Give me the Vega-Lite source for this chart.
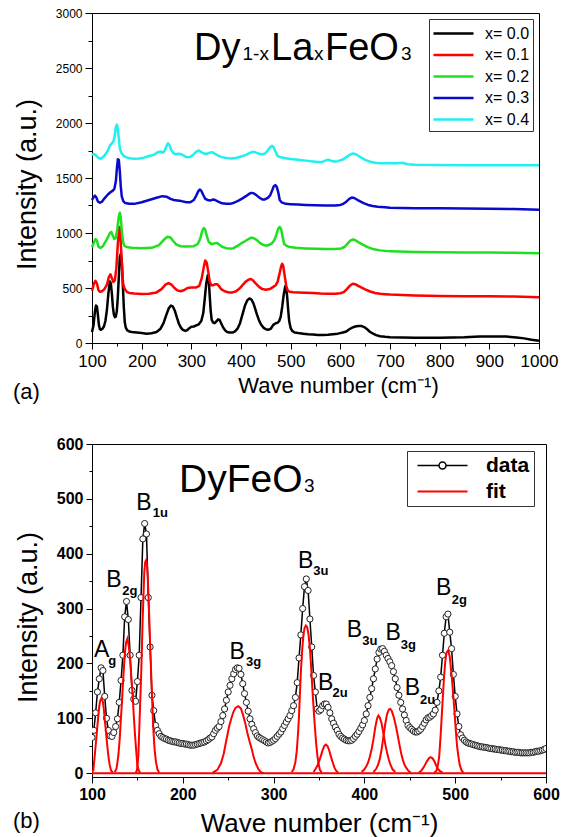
{
  "$schema": "https://vega.github.io/schema/vega-lite/v6.json",
  "background": "white",
  "padding": {"left": 12, "top": 6, "right": 0, "bottom": 0},
  "spacing": 31,
  "resolve": {"scale": {"color": "independent"}, "legend": {"color": "independent"}},
  "config": {
    "font": "Liberation Sans",
    "view": {"stroke": "black", "strokeWidth": 1},
    "axis": {
      "grid": false,
      "labelFont": "Liberation Sans",
      "titleFont": "Liberation Sans",
      "labelColor": "black",
      "titleColor": "black",
      "domainColor": "black",
      "tickColor": "black",
      "titleFontWeight": "normal",
      "labelFlush": false,
      "labelOverlap": false
    },
    "legend": {"labelFont": "Liberation Sans", "labelColor": "black"},
    "text": {"font": "Liberation Sans", "color": "black"}
  },
  "datasets": {
    "spectra": [
      {"s":"x= 0.0","w":100,"i":100},{"s":"x= 0.0","w":103,"i":160},{"s":"x= 0.0","w":106,"i":290},{"s":"x= 0.0","w":108,"i":340},{"s":"x= 0.0","w":110,"i":330},{"s":"x= 0.0","w":112,"i":250},{"s":"x= 0.0","w":114,"i":160},{"s":"x= 0.0","w":116,"i":125},{"s":"x= 0.0","w":118,"i":120},{"s":"x= 0.0","w":121,"i":130},{"s":"x= 0.0","w":124,"i":150},{"s":"x= 0.0","w":127,"i":200},{"s":"x= 0.0","w":130,"i":300},{"s":"x= 0.0","w":133,"i":450},{"s":"x= 0.0","w":136,"i":560},{"s":"x= 0.0","w":138,"i":540},{"s":"x= 0.0","w":140,"i":450},{"s":"x= 0.0","w":142,"i":330},{"s":"x= 0.0","w":144,"i":260},{"s":"x= 0.0","w":146,"i":235},{"s":"x= 0.0","w":148,"i":240},{"s":"x= 0.0","w":150,"i":290},{"s":"x= 0.0","w":152,"i":420},{"s":"x= 0.0","w":154,"i":600},{"s":"x= 0.0","w":156,"i":780},{"s":"x= 0.0","w":158,"i":810},{"s":"x= 0.0","w":160,"i":740},{"s":"x= 0.0","w":162,"i":540},{"s":"x= 0.0","w":164,"i":330},{"s":"x= 0.0","w":166,"i":190},{"s":"x= 0.0","w":168,"i":140},{"s":"x= 0.0","w":171,"i":115},{"s":"x= 0.0","w":175,"i":105},{"s":"x= 0.0","w":180,"i":100},{"s":"x= 0.0","w":190,"i":95},{"s":"x= 0.0","w":200,"i":90},{"s":"x= 0.0","w":210,"i":85},{"s":"x= 0.0","w":220,"i":88},{"s":"x= 0.0","w":230,"i":100},{"s":"x= 0.0","w":238,"i":130},{"s":"x= 0.0","w":244,"i":180},{"s":"x= 0.0","w":250,"i":260},{"s":"x= 0.0","w":255,"i":320},{"s":"x= 0.0","w":259,"i":340},{"s":"x= 0.0","w":263,"i":330},{"s":"x= 0.0","w":267,"i":290},{"s":"x= 0.0","w":271,"i":230},{"s":"x= 0.0","w":275,"i":175},{"s":"x= 0.0","w":279,"i":140},{"s":"x= 0.0","w":283,"i":120},{"s":"x= 0.0","w":288,"i":110},{"s":"x= 0.0","w":292,"i":118},{"s":"x= 0.0","w":296,"i":135},{"s":"x= 0.0","w":300,"i":148},{"s":"x= 0.0","w":305,"i":150},{"s":"x= 0.0","w":310,"i":160},{"s":"x= 0.0","w":315,"i":170},{"s":"x= 0.0","w":320,"i":200},{"s":"x= 0.0","w":324,"i":270},{"s":"x= 0.0","w":327,"i":400},{"s":"x= 0.0","w":330,"i":540},{"s":"x= 0.0","w":333,"i":615},{"s":"x= 0.0","w":335,"i":580},{"s":"x= 0.0","w":337,"i":430},{"s":"x= 0.0","w":339,"i":290},{"s":"x= 0.0","w":341,"i":210},{"s":"x= 0.0","w":344,"i":185},{"s":"x= 0.0","w":347,"i":180},{"s":"x= 0.0","w":350,"i":195},{"s":"x= 0.0","w":354,"i":215},{"s":"x= 0.0","w":357,"i":210},{"s":"x= 0.0","w":360,"i":180},{"s":"x= 0.0","w":364,"i":140},{"s":"x= 0.0","w":368,"i":115},{"s":"x= 0.0","w":372,"i":100},{"s":"x= 0.0","w":377,"i":95},{"s":"x= 0.0","w":383,"i":95},{"s":"x= 0.0","w":388,"i":105},{"s":"x= 0.0","w":393,"i":130},{"s":"x= 0.0","w":398,"i":180},{"s":"x= 0.0","w":403,"i":260},{"s":"x= 0.0","w":408,"i":340},{"s":"x= 0.0","w":413,"i":390},{"s":"x= 0.0","w":417,"i":405},{"s":"x= 0.0","w":421,"i":395},{"s":"x= 0.0","w":425,"i":360},{"s":"x= 0.0","w":428,"i":320},{"s":"x= 0.0","w":432,"i":260},{"s":"x= 0.0","w":436,"i":210},{"s":"x= 0.0","w":440,"i":170},{"s":"x= 0.0","w":445,"i":140},{"s":"x= 0.0","w":450,"i":125},{"s":"x= 0.0","w":455,"i":120},{"s":"x= 0.0","w":460,"i":130},{"s":"x= 0.0","w":465,"i":165},{"s":"x= 0.0","w":470,"i":180},{"s":"x= 0.0","w":474,"i":185},{"s":"x= 0.0","w":477,"i":200},{"s":"x= 0.0","w":480,"i":240},{"s":"x= 0.0","w":483,"i":330},{"s":"x= 0.0","w":486,"i":440},{"s":"x= 0.0","w":489,"i":515},{"s":"x= 0.0","w":491,"i":500},{"s":"x= 0.0","w":493,"i":420},{"s":"x= 0.0","w":495,"i":300},{"s":"x= 0.0","w":497,"i":200},{"s":"x= 0.0","w":500,"i":135},{"s":"x= 0.0","w":503,"i":110},{"s":"x= 0.0","w":508,"i":95},{"s":"x= 0.0","w":515,"i":90},{"s":"x= 0.0","w":525,"i":85},{"s":"x= 0.0","w":535,"i":80},{"s":"x= 0.0","w":545,"i":77},{"s":"x= 0.0","w":555,"i":73},{"s":"x= 0.0","w":565,"i":72},{"s":"x= 0.0","w":575,"i":75},{"s":"x= 0.0","w":585,"i":80},{"s":"x= 0.0","w":595,"i":85},{"s":"x= 0.0","w":605,"i":95},{"s":"x= 0.0","w":612,"i":105},{"s":"x= 0.0","w":618,"i":125},{"s":"x= 0.0","w":624,"i":140},{"s":"x= 0.0","w":630,"i":150},{"s":"x= 0.0","w":636,"i":155},{"s":"x= 0.0","w":642,"i":155},{"s":"x= 0.0","w":648,"i":145},{"s":"x= 0.0","w":654,"i":125},{"s":"x= 0.0","w":660,"i":100},{"s":"x= 0.0","w":666,"i":85},{"s":"x= 0.0","w":672,"i":72},{"s":"x= 0.0","w":680,"i":62},{"s":"x= 0.0","w":690,"i":56},{"s":"x= 0.0","w":700,"i":52},{"s":"x= 0.0","w":750,"i":48},{"s":"x= 0.0","w":800,"i":48},{"s":"x= 0.0","w":850,"i":52},{"s":"x= 0.0","w":880,"i":58},{"s":"x= 0.0","w":910,"i":60},{"s":"x= 0.0","w":935,"i":58},{"s":"x= 0.0","w":955,"i":50},{"s":"x= 0.0","w":970,"i":42},{"s":"x= 0.0","w":985,"i":30},{"s":"x= 0.0","w":1000,"i":20},

      {"s":"x= 0.1","w":100,"i":475},{"s":"x= 0.1","w":104,"i":540},{"s":"x= 0.1","w":107,"i":565},{"s":"x= 0.1","w":110,"i":540},{"s":"x= 0.1","w":113,"i":480},{"s":"x= 0.1","w":116,"i":465},{"s":"x= 0.1","w":120,"i":470},{"s":"x= 0.1","w":125,"i":490},{"s":"x= 0.1","w":130,"i":530},{"s":"x= 0.1","w":134,"i":600},{"s":"x= 0.1","w":137,"i":625},{"s":"x= 0.1","w":140,"i":590},{"s":"x= 0.1","w":143,"i":555},{"s":"x= 0.1","w":146,"i":570},{"s":"x= 0.1","w":149,"i":680},{"s":"x= 0.1","w":152,"i":900},{"s":"x= 0.1","w":155,"i":1055},{"s":"x= 0.1","w":157,"i":1000},{"s":"x= 0.1","w":159,"i":820},{"s":"x= 0.1","w":161,"i":640},{"s":"x= 0.1","w":163,"i":530},{"s":"x= 0.1","w":166,"i":490},{"s":"x= 0.1","w":170,"i":465},{"s":"x= 0.1","w":175,"i":455},{"s":"x= 0.1","w":185,"i":450},{"s":"x= 0.1","w":200,"i":445},{"s":"x= 0.1","w":215,"i":448},{"s":"x= 0.1","w":230,"i":460},{"s":"x= 0.1","w":240,"i":490},{"s":"x= 0.1","w":248,"i":530},{"s":"x= 0.1","w":254,"i":545},{"s":"x= 0.1","w":260,"i":530},{"s":"x= 0.1","w":266,"i":500},{"s":"x= 0.1","w":272,"i":478},{"s":"x= 0.1","w":278,"i":470},{"s":"x= 0.1","w":285,"i":480},{"s":"x= 0.1","w":292,"i":500},{"s":"x= 0.1","w":300,"i":505},{"s":"x= 0.1","w":310,"i":505},{"s":"x= 0.1","w":316,"i":520},{"s":"x= 0.1","w":321,"i":590},{"s":"x= 0.1","w":325,"i":690},{"s":"x= 0.1","w":328,"i":750},{"s":"x= 0.1","w":331,"i":730},{"s":"x= 0.1","w":334,"i":650},{"s":"x= 0.1","w":337,"i":560},{"s":"x= 0.1","w":340,"i":525},{"s":"x= 0.1","w":344,"i":525},{"s":"x= 0.1","w":348,"i":535},{"s":"x= 0.1","w":352,"i":535},{"s":"x= 0.1","w":356,"i":515},{"s":"x= 0.1","w":360,"i":490},{"s":"x= 0.1","w":367,"i":470},{"s":"x= 0.1","w":375,"i":460},{"s":"x= 0.1","w":383,"i":460},{"s":"x= 0.1","w":390,"i":470},{"s":"x= 0.1","w":397,"i":495},{"s":"x= 0.1","w":404,"i":530},{"s":"x= 0.1","w":410,"i":560},{"s":"x= 0.1","w":416,"i":578},{"s":"x= 0.1","w":420,"i":582},{"s":"x= 0.1","w":424,"i":570},{"s":"x= 0.1","w":430,"i":540},{"s":"x= 0.1","w":437,"i":508},{"s":"x= 0.1","w":443,"i":490},{"s":"x= 0.1","w":450,"i":485},{"s":"x= 0.1","w":458,"i":490},{"s":"x= 0.1","w":465,"i":510},{"s":"x= 0.1","w":470,"i":525},{"s":"x= 0.1","w":474,"i":560},{"s":"x= 0.1","w":478,"i":640},{"s":"x= 0.1","w":481,"i":700},{"s":"x= 0.1","w":483,"i":720},{"s":"x= 0.1","w":485,"i":700},{"s":"x= 0.1","w":488,"i":610},{"s":"x= 0.1","w":491,"i":520},{"s":"x= 0.1","w":494,"i":478},{"s":"x= 0.1","w":498,"i":465},{"s":"x= 0.1","w":505,"i":462},{"s":"x= 0.1","w":515,"i":460},{"s":"x= 0.1","w":530,"i":457},{"s":"x= 0.1","w":545,"i":455},{"s":"x= 0.1","w":560,"i":450},{"s":"x= 0.1","w":575,"i":448},{"s":"x= 0.1","w":590,"i":448},{"s":"x= 0.1","w":600,"i":452},{"s":"x= 0.1","w":607,"i":462},{"s":"x= 0.1","w":613,"i":490},{"s":"x= 0.1","w":619,"i":520},{"s":"x= 0.1","w":625,"i":538},{"s":"x= 0.1","w":630,"i":535},{"s":"x= 0.1","w":636,"i":520},{"s":"x= 0.1","w":642,"i":505},{"s":"x= 0.1","w":650,"i":487},{"s":"x= 0.1","w":660,"i":468},{"s":"x= 0.1","w":670,"i":455},{"s":"x= 0.1","w":680,"i":448},{"s":"x= 0.1","w":690,"i":444},{"s":"x= 0.1","w":700,"i":440},{"s":"x= 0.1","w":750,"i":432},{"s":"x= 0.1","w":800,"i":428},{"s":"x= 0.1","w":850,"i":425},{"s":"x= 0.1","w":900,"i":425},{"s":"x= 0.1","w":950,"i":422},{"s":"x= 0.1","w":1000,"i":415},

      {"s":"x= 0.2","w":100,"i":870},{"s":"x= 0.2","w":103,"i":905},{"s":"x= 0.2","w":107,"i":945},{"s":"x= 0.2","w":110,"i":930},{"s":"x= 0.2","w":113,"i":875},{"s":"x= 0.2","w":117,"i":865},{"s":"x= 0.2","w":122,"i":880},{"s":"x= 0.2","w":127,"i":920},{"s":"x= 0.2","w":132,"i":960},{"s":"x= 0.2","w":136,"i":1000},{"s":"x= 0.2","w":139,"i":1010},{"s":"x= 0.2","w":142,"i":975},{"s":"x= 0.2","w":145,"i":945},{"s":"x= 0.2","w":148,"i":955},{"s":"x= 0.2","w":151,"i":1040},{"s":"x= 0.2","w":154,"i":1150},{"s":"x= 0.2","w":156,"i":1185},{"s":"x= 0.2","w":158,"i":1140},{"s":"x= 0.2","w":160,"i":1020},{"s":"x= 0.2","w":163,"i":910},{"s":"x= 0.2","w":166,"i":880},{"s":"x= 0.2","w":172,"i":870},{"s":"x= 0.2","w":180,"i":865},{"s":"x= 0.2","w":200,"i":862},{"s":"x= 0.2","w":220,"i":865},{"s":"x= 0.2","w":235,"i":890},{"s":"x= 0.2","w":245,"i":940},{"s":"x= 0.2","w":252,"i":965},{"s":"x= 0.2","w":258,"i":960},{"s":"x= 0.2","w":264,"i":925},{"s":"x= 0.2","w":270,"i":895},{"s":"x= 0.2","w":278,"i":880},{"s":"x= 0.2","w":290,"i":878},{"s":"x= 0.2","w":305,"i":880},{"s":"x= 0.2","w":313,"i":900},{"s":"x= 0.2","w":318,"i":950},{"s":"x= 0.2","w":322,"i":1020},{"s":"x= 0.2","w":325,"i":1045},{"s":"x= 0.2","w":328,"i":1030},{"s":"x= 0.2","w":331,"i":975},{"s":"x= 0.2","w":335,"i":920},{"s":"x= 0.2","w":340,"i":900},{"s":"x= 0.2","w":346,"i":905},{"s":"x= 0.2","w":351,"i":910},{"s":"x= 0.2","w":356,"i":895},{"s":"x= 0.2","w":362,"i":875},{"s":"x= 0.2","w":370,"i":862},{"s":"x= 0.2","w":378,"i":858},{"s":"x= 0.2","w":385,"i":862},{"s":"x= 0.2","w":392,"i":880},{"s":"x= 0.2","w":400,"i":905},{"s":"x= 0.2","w":408,"i":925},{"s":"x= 0.2","w":415,"i":945},{"s":"x= 0.2","w":421,"i":958},{"s":"x= 0.2","w":426,"i":952},{"s":"x= 0.2","w":432,"i":935},{"s":"x= 0.2","w":438,"i":910},{"s":"x= 0.2","w":444,"i":893},{"s":"x= 0.2","w":450,"i":885},{"s":"x= 0.2","w":456,"i":890},{"s":"x= 0.2","w":462,"i":905},{"s":"x= 0.2","w":467,"i":935},{"s":"x= 0.2","w":471,"i":980},{"s":"x= 0.2","w":475,"i":1040},{"s":"x= 0.2","w":478,"i":1055},{"s":"x= 0.2","w":481,"i":1030},{"s":"x= 0.2","w":484,"i":960},{"s":"x= 0.2","w":487,"i":900},{"s":"x= 0.2","w":491,"i":885},{"s":"x= 0.2","w":498,"i":872},{"s":"x= 0.2","w":510,"i":865},{"s":"x= 0.2","w":530,"i":860},{"s":"x= 0.2","w":550,"i":857},{"s":"x= 0.2","w":570,"i":855},{"s":"x= 0.2","w":590,"i":855},{"s":"x= 0.2","w":602,"i":860},{"s":"x= 0.2","w":609,"i":875},{"s":"x= 0.2","w":615,"i":905},{"s":"x= 0.2","w":620,"i":930},{"s":"x= 0.2","w":626,"i":942},{"s":"x= 0.2","w":632,"i":930},{"s":"x= 0.2","w":638,"i":912},{"s":"x= 0.2","w":645,"i":895},{"s":"x= 0.2","w":655,"i":872},{"s":"x= 0.2","w":665,"i":855},{"s":"x= 0.2","w":680,"i":842},{"s":"x= 0.2","w":700,"i":833},{"s":"x= 0.2","w":750,"i":828},{"s":"x= 0.2","w":800,"i":825},{"s":"x= 0.2","w":850,"i":822},{"s":"x= 0.2","w":900,"i":822},{"s":"x= 0.2","w":950,"i":820},{"s":"x= 0.2","w":1000,"i":815},

      {"s":"x= 0.3","w":100,"i":1300},{"s":"x= 0.3","w":103,"i":1325},{"s":"x= 0.3","w":106,"i":1340},{"s":"x= 0.3","w":109,"i":1320},{"s":"x= 0.3","w":112,"i":1285},{"s":"x= 0.3","w":116,"i":1275},{"s":"x= 0.3","w":120,"i":1285},{"s":"x= 0.3","w":126,"i":1320},{"s":"x= 0.3","w":132,"i":1350},{"s":"x= 0.3","w":137,"i":1370},{"s":"x= 0.3","w":142,"i":1385},{"s":"x= 0.3","w":145,"i":1400},{"s":"x= 0.3","w":148,"i":1470},{"s":"x= 0.3","w":150,"i":1580},{"s":"x= 0.3","w":152,"i":1670},{"s":"x= 0.3","w":154,"i":1665},{"s":"x= 0.3","w":156,"i":1560},{"s":"x= 0.3","w":158,"i":1420},{"s":"x= 0.3","w":160,"i":1330},{"s":"x= 0.3","w":163,"i":1290},{"s":"x= 0.3","w":167,"i":1272},{"s":"x= 0.3","w":175,"i":1265},{"s":"x= 0.3","w":185,"i":1265},{"s":"x= 0.3","w":200,"i":1280},{"s":"x= 0.3","w":215,"i":1300},{"s":"x= 0.3","w":230,"i":1320},{"s":"x= 0.3","w":242,"i":1335},{"s":"x= 0.3","w":250,"i":1330},{"s":"x= 0.3","w":258,"i":1310},{"s":"x= 0.3","w":265,"i":1300},{"s":"x= 0.3","w":272,"i":1295},{"s":"x= 0.3","w":280,"i":1290},{"s":"x= 0.3","w":290,"i":1280},{"s":"x= 0.3","w":298,"i":1280},{"s":"x= 0.3","w":305,"i":1300},{"s":"x= 0.3","w":310,"i":1340},{"s":"x= 0.3","w":314,"i":1380},{"s":"x= 0.3","w":317,"i":1395},{"s":"x= 0.3","w":320,"i":1385},{"s":"x= 0.3","w":324,"i":1345},{"s":"x= 0.3","w":328,"i":1310},{"s":"x= 0.3","w":333,"i":1300},{"s":"x= 0.3","w":338,"i":1295},{"s":"x= 0.3","w":344,"i":1305},{"s":"x= 0.3","w":348,"i":1300},{"s":"x= 0.3","w":354,"i":1285},{"s":"x= 0.3","w":362,"i":1270},{"s":"x= 0.3","w":370,"i":1265},{"s":"x= 0.3","w":378,"i":1265},{"s":"x= 0.3","w":386,"i":1275},{"s":"x= 0.3","w":395,"i":1295},{"s":"x= 0.3","w":403,"i":1315},{"s":"x= 0.3","w":410,"i":1335},{"s":"x= 0.3","w":416,"i":1355},{"s":"x= 0.3","w":421,"i":1365},{"s":"x= 0.3","w":426,"i":1360},{"s":"x= 0.3","w":432,"i":1340},{"s":"x= 0.3","w":438,"i":1318},{"s":"x= 0.3","w":443,"i":1305},{"s":"x= 0.3","w":448,"i":1305},{"s":"x= 0.3","w":454,"i":1320},{"s":"x= 0.3","w":459,"i":1345},{"s":"x= 0.3","w":463,"i":1390},{"s":"x= 0.3","w":466,"i":1425},{"s":"x= 0.3","w":469,"i":1435},{"s":"x= 0.3","w":472,"i":1420},{"s":"x= 0.3","w":475,"i":1370},{"s":"x= 0.3","w":478,"i":1300},{"s":"x= 0.3","w":482,"i":1278},{"s":"x= 0.3","w":490,"i":1265},{"s":"x= 0.3","w":500,"i":1262},{"s":"x= 0.3","w":515,"i":1258},{"s":"x= 0.3","w":530,"i":1255},{"s":"x= 0.3","w":550,"i":1252},{"s":"x= 0.3","w":570,"i":1250},{"s":"x= 0.3","w":590,"i":1250},{"s":"x= 0.3","w":600,"i":1255},{"s":"x= 0.3","w":606,"i":1265},{"s":"x= 0.3","w":612,"i":1285},{"s":"x= 0.3","w":618,"i":1310},{"s":"x= 0.3","w":623,"i":1322},{"s":"x= 0.3","w":628,"i":1318},{"s":"x= 0.3","w":634,"i":1302},{"s":"x= 0.3","w":640,"i":1288},{"s":"x= 0.3","w":648,"i":1270},{"s":"x= 0.3","w":656,"i":1255},{"s":"x= 0.3","w":665,"i":1245},{"s":"x= 0.3","w":675,"i":1238},{"s":"x= 0.3","w":690,"i":1233},{"s":"x= 0.3","w":700,"i":1230},{"s":"x= 0.3","w":750,"i":1226},{"s":"x= 0.3","w":800,"i":1224},{"s":"x= 0.3","w":850,"i":1222},{"s":"x= 0.3","w":900,"i":1220},{"s":"x= 0.3","w":950,"i":1218},{"s":"x= 0.3","w":1000,"i":1212},

      {"s":"x= 0.4","w":100,"i":1705},{"s":"x= 0.4","w":103,"i":1720},{"s":"x= 0.4","w":106,"i":1715},{"s":"x= 0.4","w":110,"i":1695},{"s":"x= 0.4","w":114,"i":1680},{"s":"x= 0.4","w":118,"i":1675},{"s":"x= 0.4","w":122,"i":1690},{"s":"x= 0.4","w":127,"i":1715},{"s":"x= 0.4","w":132,"i":1750},{"s":"x= 0.4","w":136,"i":1795},{"s":"x= 0.4","w":140,"i":1815},{"s":"x= 0.4","w":143,"i":1830},{"s":"x= 0.4","w":146,"i":1890},{"s":"x= 0.4","w":148,"i":1960},{"s":"x= 0.4","w":150,"i":1985},{"s":"x= 0.4","w":152,"i":1950},{"s":"x= 0.4","w":154,"i":1860},{"s":"x= 0.4","w":156,"i":1770},{"s":"x= 0.4","w":159,"i":1730},{"s":"x= 0.4","w":163,"i":1705},{"s":"x= 0.4","w":168,"i":1690},{"s":"x= 0.4","w":175,"i":1680},{"s":"x= 0.4","w":185,"i":1675},{"s":"x= 0.4","w":195,"i":1678},{"s":"x= 0.4","w":205,"i":1685},{"s":"x= 0.4","w":215,"i":1700},{"s":"x= 0.4","w":225,"i":1712},{"s":"x= 0.4","w":232,"i":1735},{"s":"x= 0.4","w":238,"i":1740},{"s":"x= 0.4","w":242,"i":1730},{"s":"x= 0.4","w":246,"i":1745},{"s":"x= 0.4","w":250,"i":1790},{"s":"x= 0.4","w":253,"i":1815},{"s":"x= 0.4","w":256,"i":1800},{"s":"x= 0.4","w":259,"i":1760},{"s":"x= 0.4","w":263,"i":1730},{"s":"x= 0.4","w":268,"i":1715},{"s":"x= 0.4","w":274,"i":1720},{"s":"x= 0.4","w":280,"i":1715},{"s":"x= 0.4","w":286,"i":1700},{"s":"x= 0.4","w":292,"i":1688},{"s":"x= 0.4","w":298,"i":1692},{"s":"x= 0.4","w":304,"i":1712},{"s":"x= 0.4","w":310,"i":1740},{"s":"x= 0.4","w":314,"i":1750},{"s":"x= 0.4","w":318,"i":1742},{"s":"x= 0.4","w":324,"i":1725},{"s":"x= 0.4","w":330,"i":1718},{"s":"x= 0.4","w":336,"i":1728},{"s":"x= 0.4","w":341,"i":1735},{"s":"x= 0.4","w":346,"i":1725},{"s":"x= 0.4","w":352,"i":1708},{"s":"x= 0.4","w":360,"i":1692},{"s":"x= 0.4","w":370,"i":1682},{"s":"x= 0.4","w":380,"i":1678},{"s":"x= 0.4","w":390,"i":1682},{"s":"x= 0.4","w":400,"i":1695},{"s":"x= 0.4","w":410,"i":1710},{"s":"x= 0.4","w":418,"i":1728},{"s":"x= 0.4","w":423,"i":1738},{"s":"x= 0.4","w":428,"i":1735},{"s":"x= 0.4","w":435,"i":1722},{"s":"x= 0.4","w":442,"i":1715},{"s":"x= 0.4","w":448,"i":1722},{"s":"x= 0.4","w":453,"i":1745},{"s":"x= 0.4","w":458,"i":1775},{"s":"x= 0.4","w":462,"i":1792},{"s":"x= 0.4","w":465,"i":1785},{"s":"x= 0.4","w":469,"i":1745},{"s":"x= 0.4","w":473,"i":1705},{"s":"x= 0.4","w":478,"i":1690},{"s":"x= 0.4","w":490,"i":1680},{"s":"x= 0.4","w":500,"i":1672},{"s":"x= 0.4","w":515,"i":1665},{"s":"x= 0.4","w":530,"i":1658},{"s":"x= 0.4","w":545,"i":1650},{"s":"x= 0.4","w":555,"i":1645},{"s":"x= 0.4","w":565,"i":1648},{"s":"x= 0.4","w":572,"i":1662},{"s":"x= 0.4","w":577,"i":1665},{"s":"x= 0.4","w":582,"i":1655},{"s":"x= 0.4","w":588,"i":1650},{"s":"x= 0.4","w":595,"i":1653},{"s":"x= 0.4","w":605,"i":1668},{"s":"x= 0.4","w":612,"i":1690},{"s":"x= 0.4","w":618,"i":1708},{"s":"x= 0.4","w":624,"i":1722},{"s":"x= 0.4","w":630,"i":1718},{"s":"x= 0.4","w":636,"i":1702},{"s":"x= 0.4","w":642,"i":1685},{"s":"x= 0.4","w":650,"i":1665},{"s":"x= 0.4","w":660,"i":1648},{"s":"x= 0.4","w":670,"i":1638},{"s":"x= 0.4","w":680,"i":1635},{"s":"x= 0.4","w":700,"i":1635},{"s":"x= 0.4","w":715,"i":1634},{"s":"x= 0.4","w":725,"i":1638},{"s":"x= 0.4","w":735,"i":1625},{"s":"x= 0.4","w":750,"i":1620},{"s":"x= 0.4","w":800,"i":1618},{"s":"x= 0.4","w":850,"i":1617},{"s":"x= 0.4","w":900,"i":1616},{"s":"x= 0.4","w":950,"i":1615},{"s":"x= 0.4","w":1000,"i":1615}
    ],
    "topText": [
      {"w":305.4,"i":2570,"t":"Dy","r":"b"},
      {"w":403,"i":2570,"t":"1-x","r":"n"},
      {"w":460.4,"i":2570,"t":"La","r":"b"},
      {"w":547,"i":2570,"t":"x","r":"n"},
      {"w":569,"i":2570,"t":"FeO","r":"b"},
      {"w":722,"i":2570,"t":"3","r":"n"},
      {"w":-59,"i":-509,"t":"(a)","r":"p"}
    ],
    "raman": [
      {"w":100,"i":65},{"w":102,"i":78},{"w":104,"i":110},{"w":106,"i":148},{"w":108,"i":172},{"w":110,"i":192},{"w":112,"i":187},{"w":114,"i":140},{"w":116,"i":100},{"w":118,"i":78},{"w":120,"i":68},{"w":122,"i":67},{"w":124,"i":74},{"w":126,"i":85},{"w":128,"i":99},{"w":130,"i":129},{"w":132,"i":169},{"w":134,"i":215},{"w":136,"i":285},{"w":138,"i":313},{"w":140,"i":280},{"w":142,"i":215},{"w":144,"i":151},{"w":146,"i":135},{"w":148,"i":131},{"w":150,"i":167},{"w":152,"i":215},{"w":154,"i":320},{"w":156,"i":427},{"w":158,"i":455},{"w":160,"i":436},{"w":162,"i":320},{"w":164,"i":230},{"w":166,"i":142},{"w":168,"i":114},{"w":170,"i":87},{"w":172,"i":78},{"w":174,"i":72},{"w":176,"i":67},{"w":178,"i":65},{"w":180,"i":63},{"w":182,"i":62},{"w":184,"i":60},{"w":186,"i":59},{"w":188,"i":58},{"w":190,"i":57},{"w":192,"i":57},{"w":194,"i":56},{"w":196,"i":55},{"w":198,"i":54},{"w":200,"i":54},{"w":202,"i":53},{"w":204,"i":53},{"w":206,"i":52},{"w":208,"i":51},{"w":210,"i":51},{"w":212,"i":51},{"w":214,"i":52},{"w":216,"i":53},{"w":218,"i":54},{"w":220,"i":55},{"w":222,"i":56},{"w":224,"i":57},{"w":226,"i":59},{"w":228,"i":61},{"w":230,"i":64},{"w":232,"i":66},{"w":234,"i":72},{"w":236,"i":78},{"w":238,"i":82},{"w":240,"i":85},{"w":242,"i":94},{"w":244,"i":105},{"w":246,"i":117},{"w":248,"i":133},{"w":250,"i":148},{"w":252,"i":160},{"w":254,"i":172},{"w":256,"i":181},{"w":258,"i":189},{"w":260,"i":192},{"w":262,"i":191},{"w":264,"i":180},{"w":266,"i":163},{"w":268,"i":145},{"w":270,"i":129},{"w":272,"i":113},{"w":274,"i":99},{"w":276,"i":89},{"w":278,"i":81},{"w":280,"i":74},{"w":282,"i":68},{"w":284,"i":65},{"w":286,"i":63},{"w":288,"i":61},{"w":290,"i":59},{"w":292,"i":57},{"w":294,"i":55},{"w":296,"i":56},{"w":298,"i":58},{"w":300,"i":60},{"w":302,"i":63},{"w":304,"i":67},{"w":306,"i":71},{"w":308,"i":75},{"w":310,"i":81},{"w":312,"i":87},{"w":314,"i":93},{"w":316,"i":99},{"w":318,"i":105},{"w":320,"i":114},{"w":322,"i":123},{"w":324,"i":138},{"w":326,"i":165},{"w":328,"i":210},{"w":330,"i":252},{"w":332,"i":300},{"w":334,"i":340},{"w":336,"i":354},{"w":338,"i":333},{"w":340,"i":281},{"w":342,"i":230},{"w":344,"i":178},{"w":346,"i":148},{"w":348,"i":117},{"w":350,"i":113},{"w":352,"i":116},{"w":354,"i":123},{"w":356,"i":126},{"w":358,"i":126},{"w":360,"i":120},{"w":362,"i":110},{"w":364,"i":99},{"w":366,"i":91},{"w":368,"i":84},{"w":370,"i":78},{"w":372,"i":71},{"w":374,"i":67},{"w":376,"i":64},{"w":378,"i":62},{"w":380,"i":60},{"w":382,"i":59},{"w":384,"i":59},{"w":386,"i":60},{"w":388,"i":63},{"w":390,"i":67},{"w":392,"i":71},{"w":394,"i":76},{"w":396,"i":82},{"w":398,"i":88},{"w":400,"i":96},{"w":402,"i":108},{"w":404,"i":123},{"w":406,"i":138},{"w":408,"i":154},{"w":410,"i":172},{"w":412,"i":190},{"w":414,"i":208},{"w":416,"i":220},{"w":418,"i":226},{"w":420,"i":227},{"w":422,"i":222},{"w":424,"i":215},{"w":426,"i":209},{"w":428,"i":203},{"w":430,"i":196},{"w":432,"i":185},{"w":434,"i":172},{"w":436,"i":156},{"w":438,"i":142},{"w":440,"i":129},{"w":442,"i":117},{"w":444,"i":106},{"w":446,"i":96},{"w":448,"i":87},{"w":450,"i":83},{"w":452,"i":80},{"w":454,"i":77},{"w":456,"i":75},{"w":458,"i":75},{"w":460,"i":77},{"w":462,"i":80},{"w":464,"i":85},{"w":466,"i":91},{"w":468,"i":97},{"w":470,"i":101},{"w":472,"i":102},{"w":474,"i":105},{"w":476,"i":108},{"w":478,"i":115},{"w":480,"i":129},{"w":482,"i":150},{"w":484,"i":175},{"w":486,"i":215},{"w":488,"i":255},{"w":490,"i":285},{"w":492,"i":290},{"w":494,"i":257},{"w":496,"i":227},{"w":498,"i":180},{"w":500,"i":140},{"w":502,"i":108},{"w":504,"i":85},{"w":506,"i":70},{"w":508,"i":64},{"w":510,"i":60},{"w":512,"i":57},{"w":514,"i":55},{"w":516,"i":54},{"w":518,"i":53},{"w":520,"i":52},{"w":522,"i":51},{"w":524,"i":50},{"w":526,"i":49},{"w":528,"i":48},{"w":530,"i":48},{"w":532,"i":47},{"w":534,"i":47},{"w":536,"i":46},{"w":538,"i":45},{"w":540,"i":45},{"w":542,"i":44},{"w":544,"i":44},{"w":546,"i":43},{"w":548,"i":43},{"w":550,"i":42},{"w":552,"i":42},{"w":554,"i":41},{"w":556,"i":41},{"w":558,"i":40},{"w":560,"i":40},{"w":562,"i":39},{"w":564,"i":39},{"w":566,"i":38},{"w":568,"i":38},{"w":570,"i":38},{"w":572,"i":37},{"w":574,"i":37},{"w":576,"i":37},{"w":578,"i":37},{"w":580,"i":37},{"w":582,"i":37},{"w":584,"i":38},{"w":586,"i":38},{"w":588,"i":39},{"w":590,"i":40},{"w":592,"i":40},{"w":594,"i":41},{"w":596,"i":42},{"w":598,"i":43},{"w":600,"i":45}
    ],
    "fit": [
      {"p":"base","w":100,"i":0},{"p":"base","w":600,"i":0},
      {"p":"Ag","w":100,"i":1},{"p":"Ag","w":101.5,"i":6},{"p":"Ag","w":103,"i":32},{"p":"Ag","w":104,"i":50},{"p":"Ag","w":105,"i":68},{"p":"Ag","w":106,"i":87},{"p":"Ag","w":107,"i":105},{"p":"Ag","w":108,"i":122},{"p":"Ag","w":109,"i":132},{"p":"Ag","w":110.5,"i":137},{"p":"Ag","w":112,"i":130},{"p":"Ag","w":113,"i":117},{"p":"Ag","w":114,"i":98},{"p":"Ag","w":115.4,"i":75},{"p":"Ag","w":116.5,"i":55},{"p":"Ag","w":118,"i":32},{"p":"Ag","w":119.5,"i":15},{"p":"Ag","w":121,"i":5},{"p":"Ag","w":123,"i":1},
      {"p":"B2g_139","w":125,"i":2},{"p":"B2g_139","w":127,"i":8},{"p":"B2g_139","w":129,"i":32},{"p":"B2g_139","w":130.5,"i":62},{"p":"B2g_139","w":131.6,"i":93},{"p":"B2g_139","w":133,"i":130},{"p":"B2g_139","w":134.5,"i":175},{"p":"B2g_139","w":136.3,"i":221},{"p":"B2g_139","w":137.5,"i":238},{"p":"B2g_139","w":139,"i":245},{"p":"B2g_139","w":140.5,"i":232},{"p":"B2g_139","w":141.9,"i":208},{"p":"B2g_139","w":143.3,"i":175},{"p":"B2g_139","w":144.8,"i":142},{"p":"B2g_139","w":146,"i":105},{"p":"B2g_139","w":147.4,"i":69},{"p":"B2g_139","w":148.8,"i":38},{"p":"B2g_139","w":150,"i":14},{"p":"B2g_139","w":151.5,"i":5},{"p":"B2g_139","w":153,"i":1},
      {"p":"B1u","w":148,"i":1},{"p":"B1u","w":149.5,"i":5},{"p":"B1u","w":151,"i":30},{"p":"B1u","w":152.1,"i":81},{"p":"B1u","w":153,"i":125},{"p":"B1u","w":154,"i":172},{"p":"B1u","w":155,"i":230},{"p":"B1u","w":155.8,"i":281},{"p":"B1u","w":156.8,"i":330},{"p":"B1u","w":157.6,"i":367},{"p":"B1u","w":158.6,"i":385},{"p":"B1u","w":159.5,"i":388},{"p":"B1u","w":160.4,"i":383},{"p":"B1u","w":161.3,"i":360},{"p":"B1u","w":162.2,"i":325},{"p":"B1u","w":163.1,"i":281},{"p":"B1u","w":164,"i":235},{"p":"B1u","w":165,"i":190},{"p":"B1u","w":166.2,"i":135},{"p":"B1u","w":167.5,"i":81},{"p":"B1u","w":169,"i":42},{"p":"B1u","w":170.5,"i":20},{"p":"B1u","w":172,"i":7},{"p":"B1u","w":174,"i":1},
      {"p":"B3g_261","w":233,"i":1},{"p":"B3g_261","w":238,"i":6},{"p":"B3g_261","w":242,"i":18},{"p":"B3g_261","w":245,"i":35},{"p":"B3g_261","w":248.3,"i":63},{"p":"B3g_261","w":251,"i":85},{"p":"B3g_261","w":253.5,"i":100},{"p":"B3g_261","w":255.6,"i":111},{"p":"B3g_261","w":258,"i":119},{"p":"B3g_261","w":261,"i":122},{"p":"B3g_261","w":264,"i":118},{"p":"B3g_261","w":266,"i":108},{"p":"B3g_261","w":268.5,"i":93},{"p":"B3g_261","w":271,"i":74},{"p":"B3g_261","w":273.5,"i":58},{"p":"B3g_261","w":275.9,"i":44},{"p":"B3g_261","w":278,"i":30},{"p":"B3g_261","w":280,"i":19},{"p":"B3g_261","w":283,"i":8},{"p":"B3g_261","w":286,"i":2},{"p":"B3g_261","w":289,"i":0},
      {"p":"B3u_336","w":320,"i":2},{"p":"B3u_336","w":322,"i":7},{"p":"B3u_336","w":324,"i":20},{"p":"B3u_336","w":325.5,"i":40},{"p":"B3u_336","w":327,"i":75},{"p":"B3u_336","w":328,"i":105},{"p":"B3u_336","w":329,"i":145},{"p":"B3u_336","w":330.2,"i":190},{"p":"B3u_336","w":331.5,"i":225},{"p":"B3u_336","w":332.8,"i":251},{"p":"B3u_336","w":334,"i":264},{"p":"B3u_336","w":335.5,"i":269},{"p":"B3u_336","w":337,"i":266},{"p":"B3u_336","w":338.5,"i":252},{"p":"B3u_336","w":340,"i":228},{"p":"B3u_336","w":341.3,"i":195},{"p":"B3u_336","w":342.7,"i":154},{"p":"B3u_336","w":344,"i":120},{"p":"B3u_336","w":345.6,"i":81},{"p":"B3u_336","w":347,"i":52},{"p":"B3u_336","w":348.2,"i":32},{"p":"B3u_336","w":349.5,"i":17},{"p":"B3u_336","w":351,"i":6},{"p":"B3u_336","w":353,"i":1},
      {"p":"B2u_357","w":344,"i":2},{"p":"B2u_357","w":346,"i":7},{"p":"B2u_357","w":348,"i":13},{"p":"B2u_357","w":350,"i":21},{"p":"B2u_357","w":352,"i":31},{"p":"B2u_357","w":354,"i":42},{"p":"B2u_357","w":356,"i":50},{"p":"B2u_357","w":357.7,"i":52},{"p":"B2u_357","w":359.5,"i":49},{"p":"B2u_357","w":361.5,"i":40},{"p":"B2u_357","w":363,"i":31},{"p":"B2u_357","w":365,"i":20},{"p":"B2u_357","w":367,"i":10},{"p":"B2u_357","w":369,"i":4},{"p":"B2u_357","w":371,"i":1},
      {"p":"B3u_415","w":397,"i":2},{"p":"B3u_415","w":400,"i":7},{"p":"B3u_415","w":402,"i":12},{"p":"B3u_415","w":404,"i":19},{"p":"B3u_415","w":406,"i":30},{"p":"B3u_415","w":408,"i":44},{"p":"B3u_415","w":410,"i":62},{"p":"B3u_415","w":412,"i":84},{"p":"B3u_415","w":414,"i":100},{"p":"B3u_415","w":415.4,"i":105},{"p":"B3u_415","w":417,"i":101},{"p":"B3u_415","w":419,"i":90},{"p":"B3u_415","w":421,"i":72},{"p":"B3u_415","w":423,"i":53},{"p":"B3u_415","w":425,"i":37},{"p":"B3u_415","w":427,"i":24},{"p":"B3u_415","w":429,"i":14},{"p":"B3u_415","w":431,"i":7},{"p":"B3u_415","w":434,"i":2},
      {"p":"B3g_428","w":410,"i":2},{"p":"B3g_428","w":413,"i":8},{"p":"B3g_428","w":415,"i":15},{"p":"B3g_428","w":417,"i":26},{"p":"B3g_428","w":419,"i":44},{"p":"B3g_428","w":421,"i":67},{"p":"B3g_428","w":423,"i":90},{"p":"B3g_428","w":425,"i":108},{"p":"B3g_428","w":427,"i":116},{"p":"B3g_428","w":428.5,"i":117},{"p":"B3g_428","w":430,"i":114},{"p":"B3g_428","w":432,"i":104},{"p":"B3g_428","w":434,"i":91},{"p":"B3g_428","w":436,"i":75},{"p":"B3g_428","w":438,"i":57},{"p":"B3g_428","w":440,"i":40},{"p":"B3g_428","w":442,"i":26},{"p":"B3g_428","w":444,"i":16},{"p":"B3g_428","w":446,"i":10},{"p":"B3g_428","w":448,"i":5},{"p":"B3g_428","w":451,"i":1},
      {"p":"B2u_473","w":460,"i":1},{"p":"B2u_473","w":463,"i":5},{"p":"B2u_473","w":465,"i":10},{"p":"B2u_473","w":467,"i":16},{"p":"B2u_473","w":469,"i":22},{"p":"B2u_473","w":471,"i":27},{"p":"B2u_473","w":473,"i":29},{"p":"B2u_473","w":475,"i":27},{"p":"B2u_473","w":477,"i":22},{"p":"B2u_473","w":479,"i":14},{"p":"B2u_473","w":481,"i":8},{"p":"B2u_473","w":483,"i":4},{"p":"B2u_473","w":486,"i":1},
      {"p":"B2g_493","w":477,"i":1},{"p":"B2g_493","w":479.5,"i":5},{"p":"B2g_493","w":481,"i":15},{"p":"B2g_493","w":482.5,"i":32},{"p":"B2g_493","w":484,"i":70},{"p":"B2g_493","w":485,"i":99},{"p":"B2g_493","w":486.5,"i":142},{"p":"B2g_493","w":487.6,"i":172},{"p":"B2g_493","w":489,"i":203},{"p":"B2g_493","w":490.5,"i":220},{"p":"B2g_493","w":492.4,"i":224},{"p":"B2g_493","w":494,"i":212},{"p":"B2g_493","w":495,"i":196},{"p":"B2g_493","w":496.5,"i":170},{"p":"B2g_493","w":497.9,"i":142},{"p":"B2g_493","w":499.5,"i":106},{"p":"B2g_493","w":500.8,"i":75},{"p":"B2g_493","w":502,"i":50},{"p":"B2g_493","w":503.4,"i":32},{"p":"B2g_493","w":505,"i":15},{"p":"B2g_493","w":507,"i":5},{"p":"B2g_493","w":509,"i":1}
    ],
    "bottomText": [
      {"w":110.7,"i":211.5,"t":"A","r":"m"},{"w":118,"i":197.5,"t":"g","r":"u"},
      {"w":124.2,"i":339,"t":"B","r":"m"},{"w":133.4,"i":325,"t":"2g","r":"u"},
      {"w":157.3,"i":479,"t":"B","r":"m"},{"w":166.8,"i":467,"t":"1u","r":"u"},
      {"w":260,"i":208,"t":"B","r":"m"},{"w":269.6,"i":195,"t":"3g","r":"u"},
      {"w":335.3,"i":374,"t":"B","r":"m"},{"w":343.7,"i":360.5,"t":"3u","r":"u"},
      {"w":357.3,"i":152,"t":"B","r":"m"},{"w":365,"i":138.6,"t":"2u","r":"u"},
      {"w":388.9,"i":248,"t":"B","r":"m"},{"w":397.7,"i":233,"t":"3u","r":"u"},
      {"w":431.8,"i":242,"t":"B","r":"m"},{"w":440,"i":226.7,"t":"3g","r":"u"},
      {"w":453,"i":141.7,"t":"B","r":"m"},{"w":461.2,"i":126,"t":"2u","r":"u"},
      {"w":487.3,"i":324,"t":"B","r":"m"},{"w":496.1,"i":308.7,"t":"2g","r":"u"},
      {"w":195.8,"i":512,"t":"DyFeO","r":"b"},{"w":333.5,"i":512,"t":"3","r":"n"},
      {"w":13,"i":-100,"t":"(b)","r":"p"}
    ]
  },
  "vconcat": [
    {
      "width": 447,
      "height": 330,
      "encoding": {
        "x": {
          "field": "w", "type": "quantitative",
          "scale": {"domain": [100, 1000], "nice": false, "zero": false},
          "axis": {
            "values": [100,150,200,250,300,350,400,450,500,550,600,650,700,750,800,850,900,950,1000],
            "format": "d",
            "labelExpr": "datum.value % 100 === 0 ? datum.label : ''",
            "tickSize": {"condition": {"test": "datum.value % 100 === 0", "value": 6}, "value": 3},
            "labelFontSize": 17, "labelPadding": 4,
            "title": "Wave number (cm⁻¹)", "titleFontSize": 22, "titlePadding": 6, "titleX": 246
          }
        },
        "y": {
          "field": "i", "type": "quantitative",
          "scale": {"domain": [0, 3000], "nice": false},
          "axis": {
            "values": [0,250,500,750,1000,1250,1500,1750,2000,2250,2500,2750,3000],
            "format": "d",
            "labelExpr": "datum.value % 500 === 0 ? datum.label : ''",
            "tickSize": {"condition": {"test": "datum.value % 500 === 0", "value": 7}, "value": 4},
            "labelFontSize": 12, "labelPadding": 3,
            "title": "Intensity (a.u.)", "titleFontSize": 27, "titlePadding": 14, "titleY": 171
          }
        }
      },
      "layer": [
        {
          "data": {"name": "spectra"},
          "mark": {"type": "line", "strokeWidth": 2.5, "strokeJoin": "round"},
          "encoding": {
            "color": {
              "field": "s", "type": "nominal",
              "scale": {"domain": ["x= 0.0","x= 0.1","x= 0.2","x= 0.3","x= 0.4"], "range": ["#000000","#ff0000","#1ee01e","#0a0acc","#20f0f0"]},
              "legend": {
                "title": null, "orient": "top-right", "offset": 6,
                "symbolType": "M-2,0H2", "symbolSize": 400, "symbolStrokeWidth": 2.5,
                "symbolOffset": 10, "labelOffset": 20, "labelFontSize": 16,
                "rowPadding": 1.5, "padding": 3,
                "strokeColor": "#333333", "fillColor": "white", "cornerRadius": 0
              }
            }
          }
        },
        {
          "data": {"name": "topText"},
          "transform": [{"filter": "datum.r === 'b'"}],
          "mark": {"type": "text", "fontSize": 38, "align": "left", "baseline": "alphabetic"},
          "encoding": {"text": {"field": "t"}}
        },
        {
          "data": {"name": "topText"},
          "transform": [{"filter": "datum.r === 'n'"}],
          "mark": {"type": "text", "fontSize": 19, "align": "left", "baseline": "alphabetic"},
          "encoding": {"text": {"field": "t"}}
        },
        {
          "data": {"name": "topText"},
          "transform": [{"filter": "datum.r === 'p'"}],
          "mark": {"type": "text", "fontSize": 22, "align": "left", "baseline": "alphabetic"},
          "encoding": {"text": {"field": "t"}}
        }
      ]
    },
    {
      "width": 454,
      "height": 333,
      "encoding": {
        "x": {
          "field": "w", "type": "quantitative",
          "scale": {"domain": [100, 600], "nice": false, "zero": false},
          "axis": {
            "values": [100,150,200,250,300,350,400,450,500,550,600],
            "format": "d",
            "labelExpr": "datum.value % 100 === 0 ? datum.label : ''",
            "tickSize": {"condition": {"test": "datum.value % 100 === 0", "value": 6}, "value": 3},
            "labelFontSize": 16, "labelFontWeight": "bold", "labelPadding": 3,
            "title": "Wave number (cm⁻¹)", "titleFontSize": 26, "titlePadding": 8
          }
        },
        "y": {
          "field": "i", "type": "quantitative",
          "scale": {"domain": [-7, 600], "nice": false, "zero": false},
          "axis": {
            "values": [0,50,100,150,200,250,300,350,400,450,500,550,600],
            "format": "d",
            "labelExpr": "datum.value % 100 === 0 ? datum.label : ''",
            "tickSize": {"condition": {"test": "datum.value % 100 === 0", "value": 6}, "value": 3},
            "labelFontSize": 16, "labelFontWeight": "bold", "labelPadding": 3,
            "title": "Intensity (a.u.)", "titleFontSize": 27, "titlePadding": 14, "titleY": 173
          }
        }
      },
      "layer": [
        {
          "data": {"name": "raman"},
          "mark": {"type": "line", "strokeWidth": 1.5, "clip": true},
          "encoding": {
            "color": {
              "datum": "data", "type": "nominal",
              "scale": {"domain": ["data", "fit"], "range": ["black", "#ff0000"]},
              "legend": {
                "title": null, "orient": "none", "legendX": 315, "legendY": 7,
                "symbolType": "M-2,0H2", "symbolSize": 625, "symbolStrokeWidth": 2,
                "symbolOffset": 21, "labelOffset": 33, "labelFontSize": 21, "labelFontWeight": "bold",
                "rowPadding": 4, "padding": 4,
                "strokeColor": "#333333", "fillColor": "white", "cornerRadius": 0,
                "encode": {
                  "symbols": {
                    "update": {
                      "shape": {"signal": "datum.value === 'data' ? 'M-2,0H-0.28M0.28,0H2M-0.28,0A0.28,0.28,0,1,1,0.28,0A0.28,0.28,0,1,1,-0.28,0Z' : 'M-2,0H2'"},
                      "fill": {"signal": "datum.value === 'data' ? 'white' : 'transparent'"},
                      "strokeWidth": {"signal": "datum.value === 'data' ? 1.5 : 2"}
                    }
                  }
                }
              }
            }
          }
        },
        {
          "data": {"name": "raman"},
          "mark": {"type": "point", "shape": "circle", "filled": true, "fill": "white", "stroke": "#222222", "strokeWidth": 1, "size": 38, "opacity": 1, "clip": true}
        },
        {
          "data": {"name": "fit"},
          "mark": {"type": "line", "strokeWidth": 2, "clip": true},
          "encoding": {
            "color": {"datum": "fit", "type": "nominal"},
            "detail": {"field": "p"}
          }
        },
        {
          "data": {"name": "bottomText"},
          "transform": [{"filter": "datum.r === 'm'"}],
          "mark": {"type": "text", "fontSize": 23, "align": "center", "baseline": "alphabetic"},
          "encoding": {"text": {"field": "t"}}
        },
        {
          "data": {"name": "bottomText"},
          "transform": [{"filter": "datum.r === 'u'"}],
          "mark": {"type": "text", "fontSize": 13, "fontWeight": "bold", "align": "left", "baseline": "alphabetic"},
          "encoding": {"text": {"field": "t"}}
        },
        {
          "data": {"name": "bottomText"},
          "transform": [{"filter": "datum.r === 'b'"}],
          "mark": {"type": "text", "fontSize": 39, "align": "left", "baseline": "alphabetic"},
          "encoding": {"text": {"field": "t"}}
        },
        {
          "data": {"name": "bottomText"},
          "transform": [{"filter": "datum.r === 'n'"}],
          "mark": {"type": "text", "fontSize": 19, "align": "left", "baseline": "alphabetic"},
          "encoding": {"text": {"field": "t"}}
        },
        {
          "data": {"name": "bottomText"},
          "transform": [{"filter": "datum.r === 'p'"}],
          "mark": {"type": "text", "fontSize": 22, "align": "left", "baseline": "alphabetic"},
          "encoding": {"text": {"field": "t"}}
        }
      ]
    }
  ]
}
